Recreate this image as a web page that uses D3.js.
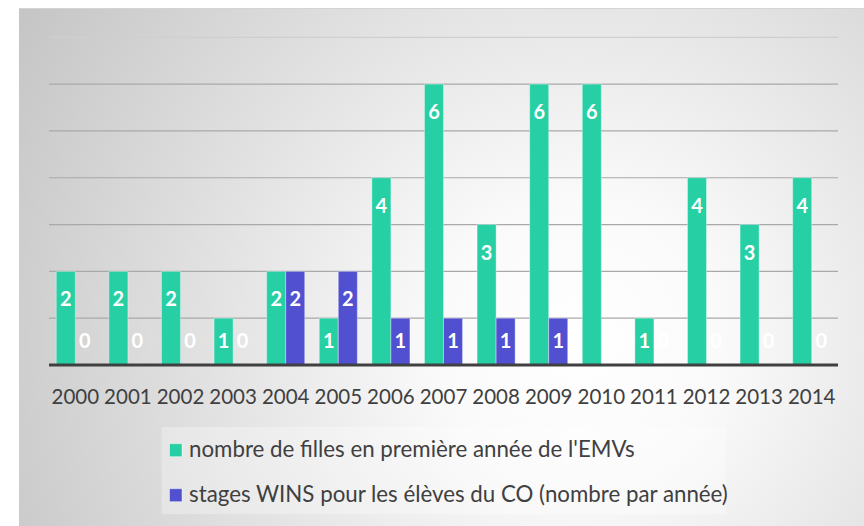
<!DOCTYPE html>
<html>
<head>
<meta charset="utf-8">
<script src="https://cdn.jsdelivr.net/npm/d3@7"></script>
<style>
  body { margin: 0; background: #fff; }
  svg { display: block; font-family: Lato, "Open Sans", sans-serif; }
</style>
</head>
<body>
<svg id="chart" width="864" height="526"></svg>
<script>
// chart data
const years = ['2000', '2001', '2002', '2003', '2004', '2005', '2006', '2007',
  '2008', '2009', '2010', '2011', '2012', '2013', '2014'];
const filles = [2, 2, 2, 1, 2, 1, 4, 6, 3, 6, 6, 1, 4, 3, 4];
const stages = [0, 0, 0, 0, 2, 2, 1, 1, 1, 1, 0, 0, 0, 0, 0];
const seriesNames = [
  "nombre de filles en première année de l'EMVs",
  'stages WINS pour les élèves du CO (nombre par année)'
];
const seriesColors = ['#26d0a4', '#5050d0'];
const yTicks = [0, 1, 2, 3, 4, 5, 6, 7];

const svg = d3.select('#chart');

// panel background, radial grey gradient
let defs = svg.append('defs');
let grad = defs.append('radialGradient')
  .attr('id', 'bg')
  .attr('gradientUnits', 'userSpaceOnUse')
  .attr('cx', 580).attr('cy', 340).attr('r', 640);
grad.append('stop').attr('offset', 0).attr('stop-color', '#ffffff');
grad.append('stop').attr('offset', 0.22).attr('stop-color', '#fafafa');
grad.append('stop').attr('offset', 1).attr('stop-color', '#c6c6c6');

svg.append('rect')
  .attr('x', 19).attr('y', 8)
  .attr('width', 860).attr('height', 530)
  .attr('fill', 'url(#bg)');
svg.append('line')
  .attr('x1', 19).attr('x2', 864).attr('y1', 8.5).attr('y2', 8.5)
  .attr('stroke', '#d4d4d4').attr('stroke-width', 1);

// scales
const x0 = d3.scaleBand().domain(years).range([49, 838]).paddingInner(0.277).paddingOuter(0.1385);
const x1 = d3.scaleBand().domain([0, 1]).range([0, x0.bandwidth()]);
const y = d3.scaleLinear().domain([0, 7]).range([365, 37.3]);

// gridlines
svg.append('g')
  .selectAll('line')
  .data(yTicks.slice(1))
  .join('line')
  .attr('x1', 49).attr('x2', 838)
  .attr('y1', d => y(d)).attr('y2', d => y(d))
  .attr('stroke', d => d === 7 ? '#cfcfcf' : '#a9a9a9')
  .attr('stroke-width', 1.2);

// bars
const series = [filles, stages];
const barGroups = svg.append('g');
series.forEach((vals, s) => {
  barGroups.append('g')
    .selectAll('rect')
    .data(vals)
    .join('rect')
    .attr('x', (d, i) => x0(years[i]) + x1(s))
    .attr('y', d => y(d))
    .attr('width', x1.bandwidth())
    .attr('height', d => y(0) - y(d))
    .attr('fill', seriesColors[s])
    .attr('stroke', 'rgba(255,255,255,0.35)')
    .attr('stroke-width', 1);
});

// baseline
svg.append('line')
  .attr('x1', 49).attr('x2', 838)
  .attr('y1', y(0)).attr('y2', y(0))
  .attr('stroke', '#404040').attr('stroke-width', 3);

// data labels (inside end)
series.forEach((vals, s) => {
  svg.append('g')
    .selectAll('text')
    .data(vals)
    .join('text')
    .attr('x', (d, i) => x0(years[i]) + x1(s) + x1.bandwidth() / 2)
    .attr('y', d => Math.min(y(d) + 28, y(0) - 24))
    .attr('dy', '0.35em')
    .attr('text-anchor', 'middle')
    .attr('fill', '#ffffff')
    .attr('font-weight', 'bold')
    .attr('font-size', 20)
    .text(d => d);
});

// x axis
const xAxis = svg.append('g')
  .attr('transform', `translate(0,${y(0)})`)
  .call(d3.axisBottom(x0).tickSize(0).tickPadding(24));
xAxis.select('.domain').remove();
xAxis.selectAll('text')
  .attr('font-family', 'Lato, "Open Sans", sans-serif')
  .attr('font-size', 20.5)
  .attr('fill', '#404040');

// legend
const legend = svg.append('g');
legend.append('rect')
  .attr('x', 161.5).attr('y', 427)
  .attr('width', 564.5).attr('height', 87)
  .attr('fill', 'rgba(255,255,255,0.3)');
seriesNames.forEach((name, i) => {
  let base = 456.7 + i * 45;
  legend.append('rect')
    .attr('x', 169.5).attr('y', base - 13)
    .attr('width', 12.5).attr('height', 13)
    .attr('fill', seriesColors[i])
    .attr('stroke', 'rgba(255,255,255,0.45)');
  legend.append('text')
    .attr('x', 189).attr('y', base)
    .attr('font-size', 22.3)
    .attr('fill', '#404040')
    .text(name);
});
</script>
</body>
</html>
